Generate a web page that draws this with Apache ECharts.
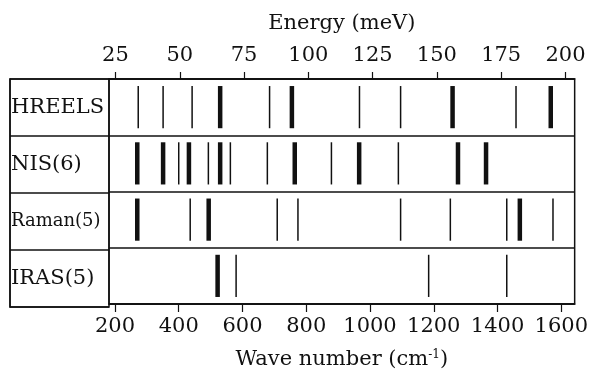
<!DOCTYPE html>
<html>
<head>
<meta charset="utf-8">
<script src="https://cdn.jsdelivr.net/npm/echarts@6/dist/echarts.min.js"></script>
<style>
  html, body { margin: 0; padding: 0; background: #fff; }
  #chart { width: 591px; height: 375px; }
</style>
</head>
<body>
<div id="chart"></div>
<script>
// Vibrational bands observed by each technique (wave numbers in cm^-1)
const techniques = ['HREELS', 'NIS(6)', 'Raman(5)', 'IRAS(5)'];

const hreelsBands = [273, 351, 442, 530, 685, 755, 967, 1096, 1259, 1458, 1567];
const hreelsStrong = [0, 0, 0, 1, 0, 1, 0, 0, 1, 0, 1];

const nisBands = [270, 351, 400, 432, 493, 530, 562, 678, 764, 879, 966, 1089, 1276, 1364];
const nisStrong = [1, 1, 0, 1, 0, 1, 0, 0, 1, 0, 1, 0, 1, 1];

const ramanBands = [270, 436, 494, 709, 774, 1096, 1252, 1429, 1470, 1574];
const ramanStrong = [1, 0, 1, 0, 0, 0, 0, 0, 1, 0];

const irasBands = [522, 580, 1184, 1429];
const irasStrong = [1, 0, 0, 0];

// Axis ticks
const waveTicks = [200, 400, 600, 800, 1000, 1200, 1400, 1600];
const energyTicks = [25, 50, 75, 100, 125, 150, 175, 200];

// Visible wave-number window and the cm^-1 per meV conversion
const waveMin = 181.3;
const waveMax = 1642;
const CM_PER_MEV = 8.0655;

const bandSets = [
  [hreelsBands, hreelsStrong],
  [nisBands, nisStrong],
  [ramanBands, ramanStrong],
  [irasBands, irasStrong]
];
const bandData = [];
bandSets.forEach(function (set, row) {
  set[0].forEach(function (w, i) {
    bandData.push([w, row, set[1][i]]);
  });
});

const FONT = 'DejaVu Serif';
const INK = '#111';
const plain = function (v) { return String(Math.round(v)); };

const chart = echarts.init(document.getElementById('chart'), null, { renderer: 'canvas' });

chart.setOption({
  backgroundColor: '#fff',
  animation: false,
  grid: [
    { left: 10, width: 99, top: 79, bottom: 68, show: true, borderColor: INK, borderWidth: 1.5, backgroundColor: 'transparent' },
    { left: 109, right: 14, top: 79, bottom: 68, show: true, borderColor: INK, borderWidth: 1.5, backgroundColor: 'transparent' }
  ],
  xAxis: [
    { gridIndex: 0, type: 'value', min: 0, max: 1, show: false },
    {
      gridIndex: 1, type: 'value', position: 'bottom',
      min: waveMin, max: waveMax,
      name: 'Wave number (cm{sup|-1})',
      nameLocation: 'middle', nameGap: 45,
      nameTextStyle: {
        fontFamily: FONT, fontSize: 21, color: INK,
        rich: { sup: { fontFamily: FONT, fontSize: 12, color: INK, verticalAlign: 'top', padding: [0, 0, 8, 0] } }
      },
      axisLine: { show: true, lineStyle: { color: INK, width: 1.5 } },
      axisTick: { show: true, length: 8, customValues: waveTicks, lineStyle: { color: INK, width: 1.2 } },
      axisLabel: { customValues: waveTicks, formatter: plain, margin: 12, fontFamily: FONT, fontSize: 21, color: INK },
      splitLine: { show: false }
    },
    {
      gridIndex: 1, type: 'value', position: 'top',
      min: waveMin / CM_PER_MEV, max: waveMax / CM_PER_MEV,
      name: 'Energy (meV)',
      nameLocation: 'middle', nameGap: 45,
      nameTextStyle: { fontFamily: FONT, fontSize: 21, color: INK },
      axisLine: { show: true, lineStyle: { color: INK, width: 1.5 } },
      axisTick: { show: true, length: 7, customValues: energyTicks, lineStyle: { color: INK, width: 1.2 } },
      axisLabel: { customValues: energyTicks, formatter: plain, margin: 13, fontFamily: FONT, fontSize: 21, color: INK },
      splitLine: { show: false }
    }
  ],
  yAxis: [
    {
      gridIndex: 0, type: 'category', data: techniques, inverse: true,
      axisLine: { show: true, lineStyle: { color: INK, width: 1.5 } },
      axisTick: { show: false },
      splitLine: { show: true, lineStyle: { color: INK, width: 1.5 } },
      axisLabel: {
        inside: true, margin: 1, align: 'left',
        fontFamily: FONT, fontSize: 21, color: INK,
        formatter: function (v) { return v.indexOf('Raman') === 0 ? '{small|' + v + '}' : v; },
        rich: { small: { fontFamily: FONT, fontSize: 18, color: INK } }
      }
    },
    {
      gridIndex: 1, type: 'category', data: techniques, inverse: true,
      axisLine: { show: false },
      axisTick: { show: false },
      axisLabel: { show: false },
      splitLine: { show: true, lineStyle: { color: INK, width: 1.5 } }
    }
  ],
  series: [
    {
      type: 'custom',
      xAxisIndex: 1,
      yAxisIndex: 1,
      data: bandData,
      encode: { x: 0, y: 1 },
      renderItem: function (params, api) {
        const c = api.coord([api.value(0), api.value(1)]);
        const band = api.size([0, 1])[1];
        const h = band * 0.75;
        const w = api.value(2) ? 4.5 : 1.5;
        return {
          type: 'rect',
          shape: { x: c[0] - w / 2, y: c[1] - h / 2, width: w, height: h },
          style: { fill: INK }
        };
      }
    }
  ]
});
</script>
</body>
</html>
